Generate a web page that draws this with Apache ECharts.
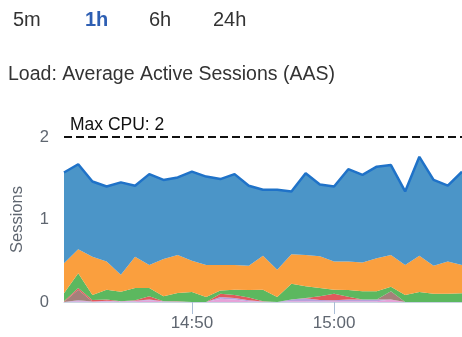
<!DOCTYPE html>
<html>
<head>
<meta charset="utf-8">
<script src="https://cdn.jsdelivr.net/npm/echarts@6/dist/echarts.min.js"></script>
<style>
  html, body { margin: 0; padding: 0; background: #fff; }
  #chart { width: 462px; height: 337px; }
</style>
</head>
<body>
<div id="chart"></div>
<script>
// One sample per minute
const times = ['14:41','14:42','14:43','14:44','14:45','14:46','14:47','14:48','14:49','14:50',
               '14:51','14:52','14:53','14:54','14:55','14:56','14:57','14:58','14:59','15:00',
               '15:01','15:02','15:03','15:04','15:05','15:06','15:07','15:08','15:09'];

// Average active sessions per wait class (stacked bottom to top)
const pink   = [0,0.01,0.005,0.01,0.005,0.01,0.02,0.005,0.005,0,0,0.04,0.03,0.01,0.005,0,0.01,0.01,0.005,0.01,0.01,0.01,0.01,0.03,0,0,0,0,0];
const purple = [0,0.01,0,0.005,0.005,0.005,0.01,0.005,0,0,0,0.02,0.02,0.01,0,0,0.02,0.035,0.02,0.01,0.02,0.02,0.02,0,0,0,0,0,0];
const brown  = [0,0.13,0,0,0,0,0,0,0,0,0,0,0,0,0,0,0,0,0,0,0,0,0,0.1,0,0,0,0,0];
const red    = [0.01,0.02,0.02,0.015,0,0.005,0.04,0,0.005,0,0,0.04,0.035,0.035,0.005,0,0,0.005,0.045,0.08,0.035,0,0,0,0,0,0,0,0];
const green  = [0.095,0.18,0.06,0.12,0.115,0.15,0.10,0.06,0.10,0.12,0.06,0.04,0.065,0.09,0.14,0.06,0.19,0.14,0.10,0.05,0.08,0.10,0.10,0.055,0.085,0.12,0.10,0.10,0.105];
const orange = [0.365,0.29,0.465,0.34,0.205,0.38,0.28,0.45,0.46,0.38,0.39,0.31,0.30,0.295,0.41,0.33,0.36,0.38,0.385,0.34,0.345,0.35,0.40,0.385,0.365,0.44,0.34,0.39,0.345];
const blue   = [1.10,1.03,0.91,0.91,1.12,0.86,1.10,0.96,0.94,1.08,1.07,1.04,1.10,0.97,0.80,0.97,0.76,0.99,0.87,0.91,1.12,1.06,1.11,1.09,0.89,1.20,1.04,0.92,1.13];

const yTicks = [0, 1, 2];
const maxCpu = 2;
const ranges = ['5m', '1h', '6h', '24h'];
const selectedRange = '1h';

const FONT = '"Liberation Sans", Arial, Helvetica, sans-serif';

function area(name, data, color) {
  return {
    name, type: 'line', stack: 'aas', data,
    symbol: 'none', silent: true,
    lineStyle: { width: 0 },
    areaStyle: { color, opacity: 1 },
    itemStyle: { color }
  };
}

const series = [
  area('pink', pink, '#e6a3d9'),
  area('purple', purple, '#b7a0dc'),
  area('brown', brown, '#a5807a'),
  area('red', red, '#e05a5c'),
  area('green', green, '#5cb85f'),
  area('orange', orange, '#fa9f3e'),
  {
    name: 'blue', type: 'line', stack: 'aas', data: blue,
    symbol: 'none', silent: true,
    lineStyle: { width: 2.5, color: '#1f72c8' },
    areaStyle: { color: '#4b95c8', opacity: 1 },
    itemStyle: { color: '#1f72c8' },
    markLine: {
      silent: true, symbol: 'none',
      data: [{ yAxis: maxCpu }],
      lineStyle: { color: '#111', type: [8, 4], width: 2 },
      label: {
        show: true, position: 'insideStartTop',
        formatter: 'Max CPU: ' + maxCpu,
        color: '#111', fontSize: 17.5, fontFamily: FONT,
        distance: [6, 3]
      }
    }
  }
];

// Time-range selector and panel heading
const rangeX = [13, 85, 149, 213];
const titles = ranges.map((r, i) => ({
  text: r, left: rangeX[i], top: 10, padding: 0,
  textStyle: {
    fontSize: 20, fontFamily: FONT,
    fontWeight: r === selectedRange ? 'bold' : 'normal',
    color: r === selectedRange ? '#2e5fb3' : '#333'
  }
}));
titles.push({
  text: 'Load: Average Active Sessions (AAS)', left: 8, top: 65, padding: 0,
  textStyle: { fontSize: 19.5, fontFamily: FONT, fontWeight: 'normal', color: '#333' }
});

const chart = echarts.init(document.getElementById('chart'), null, { renderer: 'canvas' });
chart.setOption({
  animation: false,
  title: titles,
  grid: { left: 64, top: 137, width: 403.2, height: 165, containLabel: false },
  xAxis: {
    type: 'category', data: times, boundaryGap: false,
    axisLine: { lineStyle: { color: '#c9d4e2', width: 1 } },
    axisTick: {
      length: 12, lineStyle: { color: '#a9bdd6' },
      interval: (i, v) => v.endsWith('0')
    },
    axisLabel: {
      interval: (i, v) => v.endsWith('0'),
      color: '#5f6670', fontSize: 17, fontFamily: FONT, margin: 13
    }
  },
  yAxis: {
    type: 'value', min: yTicks[0], max: yTicks[yTicks.length - 1], interval: 1,
    name: 'Sessions', nameLocation: 'middle', nameGap: 38, nameRotate: 90,
    nameTextStyle: { color: '#5f6670', fontSize: 16.5, fontFamily: FONT },
    axisLine: { show: false }, axisTick: { show: false },
    splitLine: { show: false },
    axisLabel: { color: '#5f6670', fontSize: 16.5, fontFamily: FONT, margin: 15 }
  },
  series
});
</script>
</body>
</html>
